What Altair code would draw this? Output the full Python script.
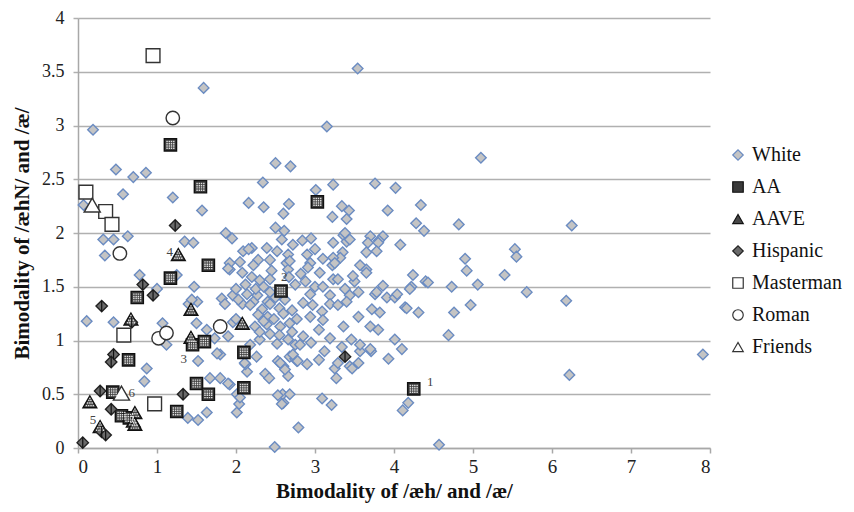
import altair as alt
import pandas as pd

series_order = ["White", "AA", "AAVE", "Hispanic", "Masterman", "Roman", "Friends"]

white_x = [0.19, 1.59, 3.54, 3.15, 0.48, 0.70, 0.86, 0.07, 0.57, 1.20, 1.57,
           2.50, 2.69, 2.34, 2.16, 2.35, 2.67, 2.60, 3.01, 3.23, 3.76, 4.02, 3.92, 3.34, 3.43, 4.34,
           3.22, 3.40, 4.28, 4.38, 1.87, 1.95, 2.50, 2.61, 2.58, 2.72, 2.84,
           3.36, 3.23, 3.40, 3.70, 3.86, 3.67, 4.08, 3.81, 0.32, 0.45, 0.63, 1.35, 1.46,
           2.09, 2.20, 2.39, 2.52, 0.34, 0.11, 0.45, 0.78, 1.00, 1.25,
           1.47, 1.51, 1.40, 1.50, 1.63, 1.07, 1.12, 0.87, 0.84, 1.52,
           1.92, 1.82, 1.86, 1.73, 1.80, 1.67, 1.80, 1.92, 1.39, 1.52, 1.63, 2.01, 2.04, 2.01, 2.14, 2.12, 2.26,
           2.49, 2.79, 2.37, 2.42, 2.60, 2.59, 2.68, 2.53, 2.60, 2.68, 2.66, 2.77, 2.90,
           3.09, 3.21, 3.25, 3.27, 3.19, 3.36, 3.34, 3.46, 3.44, 3.55, 3.57, 3.71, 3.55, 3.70, 3.80, 3.93,
           4.01, 4.10, 4.11, 4.18, 3.72, 3.82, 3.76, 3.86, 3.91, 4.01, 4.14, 4.24,
           4.22, 4.31, 4.40, 3.65, 3.65, 3.57, 5.53, 5.55, 4.90, 4.92, 4.43, 4.73, 5.06, 5.40, 5.68,
           4.20, 4.16, 4.97, 4.76, 6.18, 4.69, 7.91, 6.22, 4.57, 5.10, 4.82, 6.25,
           2.16, 2.28, 2.43, 2.66, 2.64, 2.05, 1.92, 1.90, 2.08, 2.20, 2.30, 2.45, 2.66, 2.43, 2.67,
           1.44, 1.96, 2.14, 2.27, 2.43, 2.08, 2.22, 2.40,
           3.38, 3.44, 3.80, 3.35, 3.32, 3.23, 3.78, 2.68, 2.94, 2.91, 3.06, 3.22, 3.25, 3.65,
           2.75, 3.00, 3.10, 3.23, 3.29, 3.38, 3.78, 4.04, 2.94, 3.19, 3.44,
           2.03, 2.18, 2.33, 2.43, 2.28, 2.40, 1.96, 2.24, 2.39, 2.56, 2.68,
           1.90, 2.18, 2.30, 2.43, 2.52, 2.66, 2.75, 1.76, 2.11, 2.56, 2.62, 2.75,
           1.90, 2.05, 2.53, 2.58,
           2.71, 2.77, 2.97, 3.09, 3.19, 3.29, 3.40, 3.10, 2.94, 2.71, 2.85, 2.81, 3.57, 3.70,
           2.72, 2.78, 3.29, 3.47,
           2.25, 2.35, 2.50, 2.55, 2.60, 2.35, 2.48, 2.30, 2.55, 2.62, 2.85, 2.88, 2.82, 3.05,
           3.12, 2.95, 3.05, 2.22, 2.12, 2.00, 2.00, 2.90, 3.00, 3.10, 3.50, 3.55, 3.48, 2.95]
white_y = [2.96, 3.35, 3.53, 2.99, 2.59, 2.52, 2.56, 2.26, 2.36, 2.33, 2.21,
           2.65, 2.62, 2.47, 2.28, 2.24, 2.27, 2.18, 2.40, 2.45, 2.46, 2.42, 2.21, 2.25, 2.21, 2.26,
           2.15, 2.13, 2.09, 2.02, 2.00, 1.95, 2.05, 2.02, 1.94, 1.89, 1.93,
           1.98, 1.91, 1.92, 1.97, 1.97, 1.91, 1.89, 1.93, 1.94, 1.94, 1.97, 1.92, 1.91,
           1.83, 1.86, 1.86, 1.83, 1.79, 1.18, 1.17, 1.61, 1.48, 1.61,
           1.50, 1.36, 1.34, 1.16, 1.10, 1.16, 0.96, 0.74, 0.62, 0.81,
           1.66, 1.39, 1.34, 1.02, 0.87, 0.65, 0.65, 0.59, 0.28, 0.26, 0.33, 0.33, 0.41, 0.50, 0.71, 0.78, 0.85,
           0.01, 0.19, 0.69, 0.65, 0.42, 0.50, 0.50, 0.81, 0.76, 0.85, 0.67, 0.81, 0.78,
           0.46, 0.40, 0.74, 0.65, 1.02, 1.13, 0.94, 1.01, 0.76, 0.79, 0.90, 0.90, 1.22, 1.13, 1.10, 0.83,
           1.01, 0.92, 0.35, 0.42, 1.29, 1.26, 1.43, 1.51, 1.40, 1.40, 1.31, 1.61,
           1.50, 1.26, 1.55, 1.66, 1.82, 1.70, 1.85, 1.78, 1.76, 1.65, 1.54, 1.50, 1.52, 1.61, 1.45,
           1.48, 1.30, 1.33, 1.26, 1.37, 1.05, 0.87, 0.68, 0.03, 2.70, 2.08, 2.07,
           1.85, 1.75, 1.75, 1.80, 1.72, 1.73, 1.72, 1.67, 1.63, 1.59, 1.56, 1.65, 1.66, 1.57, 1.59,
           1.38, 1.42, 1.43, 1.42, 1.45, 1.34, 1.36, 1.36,
           2.00, 1.94, 1.91, 1.82, 1.77, 1.77, 1.83, 1.74, 1.72, 1.68, 1.63, 1.70, 1.72, 1.63,
           1.52, 1.50, 1.50, 1.57, 1.57, 1.48, 1.45, 1.43, 1.43, 1.42, 1.42,
           1.38, 1.33, 1.29, 1.34, 1.24, 1.22, 1.17, 1.13, 1.15, 1.13, 1.16,
           1.04, 0.96, 1.01, 1.06, 0.97, 1.01, 0.96, 0.88, 0.79, 0.79, 0.73, 0.83,
           0.60, 0.47, 0.49, 0.41,
           1.28, 1.20, 1.33, 1.27, 1.34, 1.33, 1.36, 1.19, 1.22, 1.08, 1.04, 0.96, 0.96, 0.92,
           0.87, 0.81, 0.79, 0.74,
           1.48, 1.50, 1.40, 1.30, 1.25, 1.18, 1.20, 1.08, 1.05, 1.38, 1.35, 1.55, 1.62, 1.10,
           0.90, 0.98, 0.82, 1.70, 1.52, 1.48, 1.20, 1.80, 1.85, 1.76, 1.55, 1.45, 1.60, 1.95]

aa_x = [1.17, 1.55, 1.65, 1.17, 0.75, 2.57, 3.03, 1.45, 1.60, 0.64, 0.44, 0.55, 0.65, 1.50, 1.65, 2.10, 2.10, 1.25, 4.25]
aa_y = [2.82, 2.43, 1.70, 1.58, 1.40, 1.46, 2.29, 0.96, 0.99, 0.82, 0.52, 0.30, 0.28, 0.60, 0.50, 0.56, 0.89, 0.34, 0.55]

aave_x = [1.27, 1.43, 0.67, 1.43, 2.08, 0.15, 0.28, 0.72, 0.70, 0.72]
aave_y = [1.80, 1.29, 1.20, 1.03, 1.16, 0.43, 0.20, 0.33, 0.25, 0.22]

hisp_x = [1.23, 0.82, 0.95, 0.30, 0.68, 0.45, 0.42, 0.28, 0.42, 0.30, 0.35, 0.06, 1.33, 3.38]
hisp_y = [2.07, 1.52, 1.42, 1.32, 1.17, 0.87, 0.80, 0.53, 0.36, 0.15, 0.12, 0.05, 0.50, 0.85]

master_x = [0.95, 0.10, 0.35, 0.43, 0.58, 0.97]
master_y = [3.65, 2.38, 2.20, 2.08, 1.05, 0.41]

roman_x = [1.20, 0.53, 1.02, 1.12, 1.80]
roman_y = [3.07, 1.81, 1.02, 1.07, 1.13]

friends_x = [0.18, 0.55]
friends_y = [2.26, 0.51]

label_text = ["1", "2", "3", "4", "5", "6"]
label_x = [4.46, 2.61, 1.34, 1.16, 0.19, 0.68]
label_y = [0.61, 1.59, 0.83, 1.82, 0.26, 0.51]

x_ticks = [0, 1, 2, 3, 4, 5, 6, 7, 8]
y_ticks = [0, 0.5, 1, 1.5, 2, 2.5, 3, 3.5, 4]

rows = []
for name, xs, ys in [("White", white_x, white_y), ("AA", aa_x, aa_y), ("AAVE", aave_x, aave_y),
                     ("Hispanic", hisp_x, hisp_y), ("Masterman", master_x, master_y),
                     ("Roman", roman_x, roman_y), ("Friends", friends_x, friends_y)]:
    for a, b in zip(xs, ys):
        rows.append({"x": a, "y": b, "series": name})
df = pd.DataFrame(rows)

size_map = {"White": 112, "AA": 150, "AAVE": 190, "Hispanic": 130, "Masterman": 190, "Roman": 180, "Friends": 260}
df["sz"] = df["series"].map(size_map)

labels_df = pd.DataFrame({"x": label_x, "y": label_y, "t": label_text})

FONT = "Liberation Serif"

xscale = alt.Scale(domain=[0, 8], nice=False)
yscale = alt.Scale(domain=[0, 4], nice=False)

xenc = alt.X("x:Q", scale=xscale,
             axis=alt.Axis(values=x_ticks, format="d", title="Bimodality of /æh/ and /æ/", grid=False,
                           domainColor="#a8a8a8", domainWidth=1.5, tickColor="#a8a8a8", tickWidth=1.5,
                           tickSize=5, labelPadding=4, labelFont=FONT, labelFontSize=19,
                           labelColor="#222222", titleFont=FONT, titleFontSize=21,
                           titleFontWeight="bold", titleColor="#111111",
                           titleY=49, titleBaseline="alphabetic"))
yenc = alt.Y("y:Q", scale=yscale,
             axis=alt.Axis(values=y_ticks, format=".1~f", title="Bimodality of /æhN/ and /æ/",
                           grid=True, gridColor="#b0b0b0", gridWidth=1.5,
                           domainColor="#a8a8a8", domainWidth=1.5, tickColor="#b0b0b0", tickWidth=1.5,
                           tickSize=5, labelPadding=9, labelFont=FONT, labelFontSize=18,
                           labelColor="#222222", titleFont=FONT, titleFontSize=21,
                           titleFontWeight="bold", titleColor="#111111", titlePadding=9))

points = alt.Chart(df).mark_point(filled=False, opacity=1, strokeWidth=1.4).encode(
    x=xenc,
    y=yenc,
    shape=alt.Shape("series:N", sort=series_order,
                    scale=alt.Scale(domain=series_order,
                                    range=["diamond", "square", "triangle-up", "diamond", "square", "circle", "triangle-up"]),
                    legend=alt.Legend(title=None, orient="none", legendX=650, legendY=127,
                                      labelFont=FONT, labelFontSize=20, labelColor="#111111",
                                      symbolSize=110, symbolStrokeWidth=1.2, rowPadding=12,
                                      labelOffset=4)),
    fill=alt.Fill("series:N", sort=series_order,
                  scale=alt.Scale(domain=series_order,
                                  range=["#c4c4c4", "#3a3a3a", "#474747", "#6a6a6a", "#ffffff", "#ffffff", "#ffffff"])),
    stroke=alt.Stroke("series:N", sort=series_order,
                      scale=alt.Scale(domain=series_order,
                                      range=["#6b8cc2", "#111111", "#111111", "#222222", "#333333", "#333333", "#333333"])),
    size=alt.Size("sz:Q", scale=None, legend=None),
    order=alt.Order("ord:Q"),
).transform_calculate(
    ord="indexof(['White','AA','AAVE','Hispanic','Masterman','Roman','Friends'], datum.series)"
)

# dotted texture overlays
sq_dots = " ".join(
    f"M{cx - 0.12:.2f},{cy - 0.12:.2f}h0.24v0.24h-0.24Z"
    for cx in (-0.55, -0.18, 0.18, 0.55) for cy in (-0.55, -0.18, 0.18, 0.55)
)
tri_pts = [(-0.5, 0.55), (-0.17, 0.55), (0.17, 0.55), (0.5, 0.55),
           (-0.33, 0.18), (0.0, 0.18), (0.33, 0.18), (-0.15, -0.2), (0.15, -0.2), (0.0, -0.5)]
tri_dots = " ".join(f"M{cx - 0.1:.2f},{cy - 0.1:.2f}h0.2v0.2h-0.2Z" for cx, cy in tri_pts)

aa_tex = alt.Chart(df[df["series"] == "AA"]).mark_point(
    shape=sq_dots, filled=True, fill="#dcdcdc", strokeWidth=0, opacity=1, size=150
).encode(x=alt.X("x:Q", scale=xscale), y=alt.Y("y:Q", scale=yscale))

aave_tex = alt.Chart(df[df["series"] == "AAVE"]).mark_point(
    shape=tri_dots, filled=True, fill="#dcdcdc", strokeWidth=0, opacity=1, size=190
).encode(x=alt.X("x:Q", scale=xscale), y=alt.Y("y:Q", scale=yscale))

hisp_line = alt.Chart(df[df["series"] == "Hispanic"]).mark_point(
    shape="M0,-0.9L0,0.9", filled=False, stroke="#111111", strokeWidth=1.2, opacity=1, size=130
).encode(x=alt.X("x:Q", scale=xscale), y=alt.Y("y:Q", scale=yscale))

labels = alt.Chart(labels_df).mark_text(font=FONT, fontSize=13, color="#444444").encode(
    x=alt.X("x:Q", scale=xscale), y=alt.Y("y:Q", scale=yscale), text="t:N"
)

chart = alt.layer(points, aa_tex, aave_tex, hisp_line, labels).properties(
    width=632, height=430,
    autosize=alt.AutoSizeParams(type="none"),
    padding={"left": 70, "top": 10, "right": 136, "bottom": 56},
).configure(background="white", font=FONT).configure_view(stroke=None).configure_axis(
    labelFont=FONT, titleFont=FONT
).configure_legend(labelFont=FONT)

chart.save("out.html", embed_options={"renderer": "svg", "actions": False})
